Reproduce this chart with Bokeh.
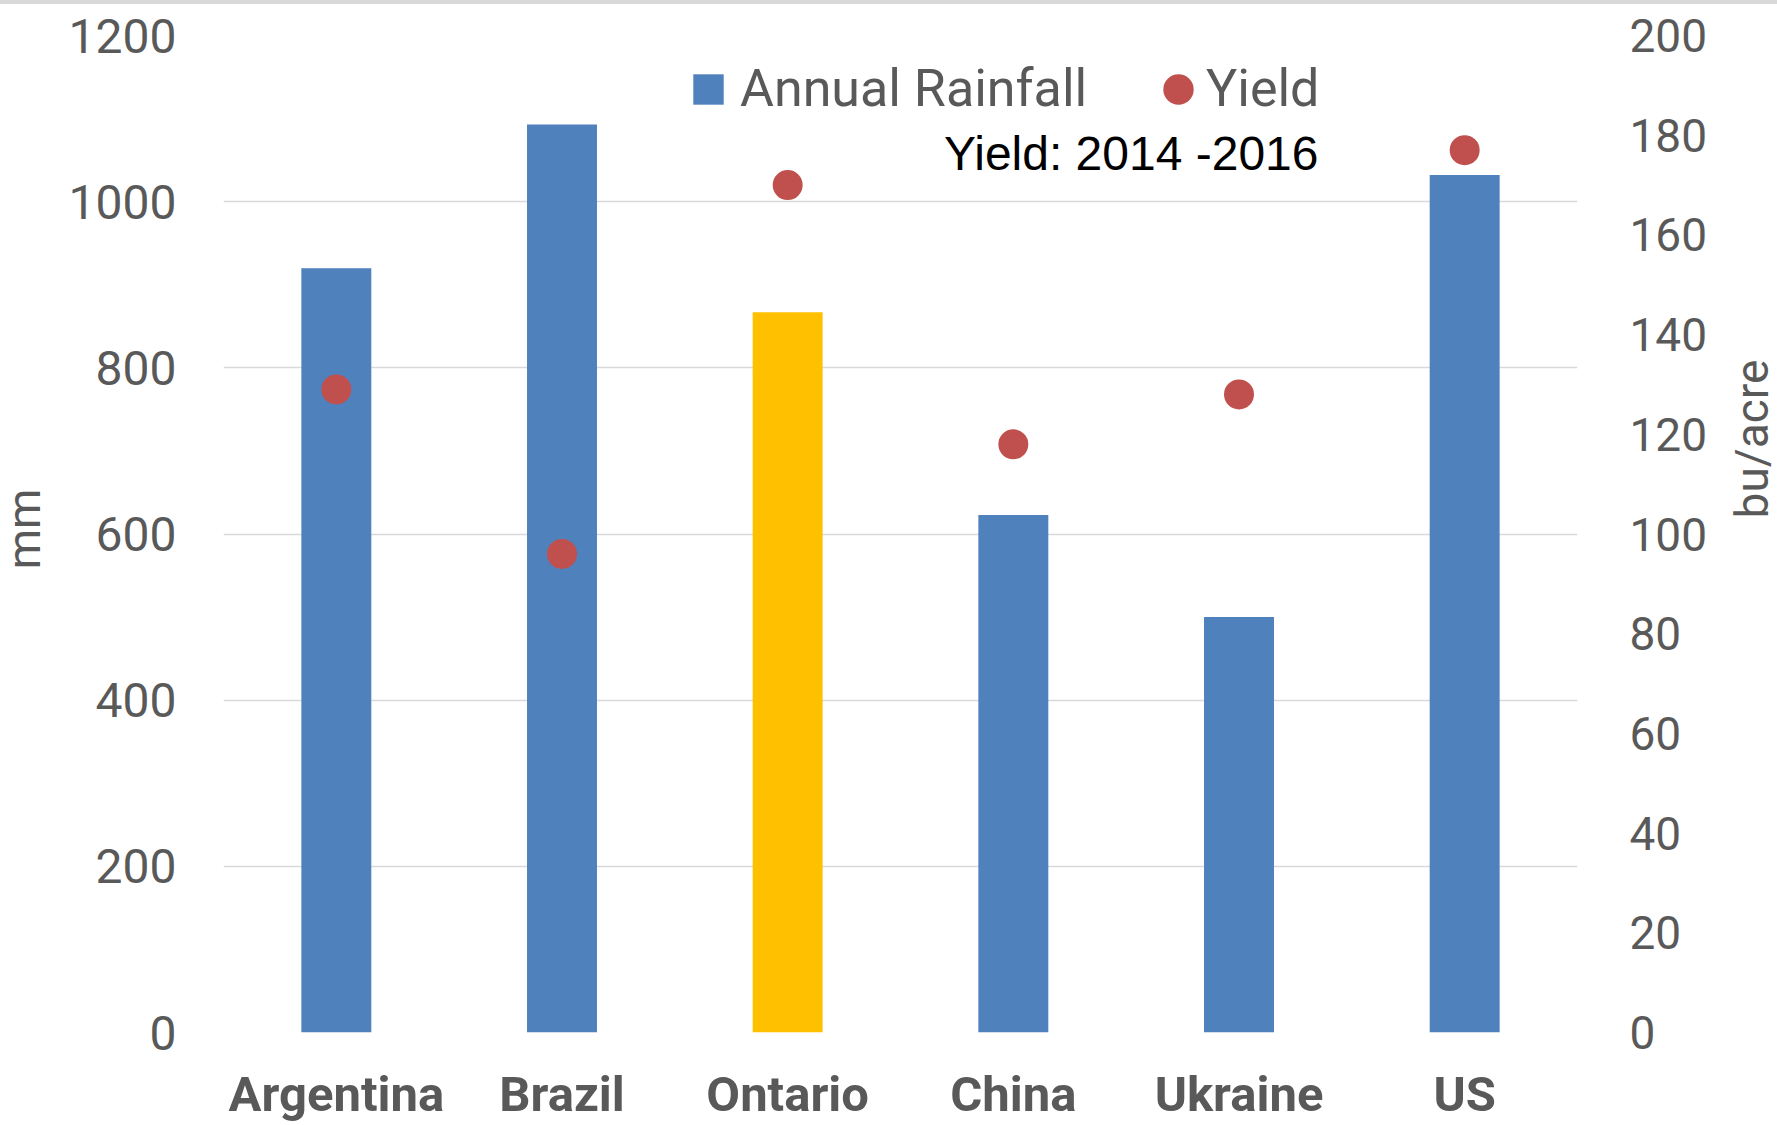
from bokeh.plotting import figure
from bokeh.layouts import column, row
from bokeh.models import (ColumnDataSource, Range1d, FactorRange, LinearAxis, FixedTicker,
                          Legend, LegendItem, Label, Spacer, Div)
from bokeh.embed import file_html
from bokeh.resources import INLINE

# ---- data ----
categories = ["Argentina", "Brazil", "Ontario", "China", "Ukraine", "US"]
rainfall_mm = [920, 1093, 867, 623, 500, 1032]
yield_bu_acre = [129, 96, 170, 118, 128, 177]
highlight = "Ontario"
left_ticks = [0, 200, 400, 600, 800, 1000, 1200]
right_ticks = [0, 20, 40, 60, 80, 100, 120, 140, 160, 180, 200]

BLUE = "#4F81BD"
GOLD = "#FFC000"
RED = "#C0504D"
GREY_TXT = "#595959"
GRID = "#D9D9D9"
FONT = "Roboto"

colors = [GOLD if c == highlight else BLUE for c in categories]
src = ColumnDataSource(dict(cat=categories, rain=rainfall_mm, yld=yield_bu_acre, color=colors))

W, H_TOP, H = 1777, 4, 1121
SIDE_L, SIDE_R = 40, 40
PW = W - SIDE_L - SIDE_R
FRAME_L, FRAME_W = 223, 1354
p = figure(width=PW, height=H, output_backend="svg", toolbar_location=None,
           x_range=FactorRange(*categories, range_padding=0), y_range=Range1d(0, 1200),
           min_border_left=FRAME_L - SIDE_L, min_border_right=PW - (FRAME_L - SIDE_L) - FRAME_W,
           min_border_top=31, min_border_bottom=92, margin=0)
p.outline_line_color = None
p.background_fill_color = "white"
p.border_fill_color = "white"
p.x_range.factor_padding = 0

p.extra_y_ranges = {"yield": Range1d(0, 200)}

bars = p.vbar(x="cat", top="rain", width=0.31, bottom=0, color="color", line_color=None, source=src)
dots = p.scatter(x="cat", y="yld", size=30, marker="circle", fill_color=RED, line_color=None,
                 source=src, y_range_name="yield")

# left axis
la = p.yaxis[0]
la.ticker = FixedTicker(ticks=left_ticks)
la.axis_line_color = None
la.major_tick_line_color = None
la.minor_tick_line_color = None
la.major_label_text_font = FONT
la.major_label_text_font_size = "48px"
la.major_label_text_color = GREY_TXT
la.major_label_standoff = 41

# right axis
rax = LinearAxis(y_range_name="yield", ticker=FixedTicker(ticks=right_ticks))
rax.axis_line_color = None
rax.major_tick_line_color = None
rax.minor_tick_line_color = None
rax.major_label_text_font = FONT
rax.major_label_text_font_size = "46px"
rax.major_label_text_color = GREY_TXT
rax.major_label_standoff = 46
p.add_layout(rax, "right")

# x axis
xa = p.xaxis[0]
xa.axis_line_color = None
xa.major_tick_line_color = None
xa.minor_tick_line_color = None
xa.major_label_text_font = FONT
xa.major_label_text_font_style = "bold"
xa.major_label_text_font_size = "49px"
xa.major_label_text_color = GREY_TXT
xa.major_label_standoff = 27

p.xgrid.grid_line_color = None
p.ygrid.grid_line_color = GRID
p.ygrid.grid_line_width = 1.5
p.ygrid.ticker = FixedTicker(ticks=left_ticks)

# note
p.add_layout(Label(x=1095, y=879, x_units="screen", y_units="screen", text="Yield: 2014 -2016",
                   text_align="right", text_baseline="alphabetic", text_font="Liberation Sans",
                   text_font_size="48px", text_color="black"))

# legends: area-style glyphs are inset 10% of the 38px glyph box -> 30px markers
oval = p.ellipse(x=[categories[0]], y=[-1000], width=30, height=30, width_units="screen",
                 height_units="screen", fill_color=RED, line_color=None)
common = dict(orientation="horizontal", glyph_width=38, glyph_height=38, padding=0, margin=0,
              border_line_color=None, background_fill_alpha=0, label_text_font=FONT,
              label_text_font_size="52px", label_text_color=GREY_TXT)
leg_a = Legend(items=[LegendItem(label="Annual Rainfall", renderers=[bars])],
               location=(466, 913), label_standoff=13, **common)
leg_b = Legend(items=[LegendItem(label="Yield", renderers=[oval])],
               location=(936, 913), label_standoff=9, **common)
p.add_layout(leg_a, "center")
p.add_layout(leg_b, "center")


def side_title(text, width, cx, cy):
    return Div(
        text=('<div style="position:absolute; left:0; top:0; width:%dpx; height:%dpx;">'
              '<span style="position:absolute; left:%dpx; top:%dpx; transform:translate(-50%%,-50%%) rotate(-90deg);'
              ' white-space:nowrap; font-family:Roboto; font-size:46px; color:%s; line-height:1;">%s</span></div>')
             % (width, H, cx, cy, GREY_TXT, text),
        width=width, height=H, margin=0, styles={"position": "relative", "overflow": "visible"})


left_title = side_title("mm", SIDE_L, 24, 525)
right_title = side_title("bu/acre", SIDE_R, 15, 435)

band = Spacer(width=W, height=H_TOP, margin=0, styles={"background-color": "#D9D9D9"})
layout = column(band, row(left_title, p, right_title, spacing=0, margin=0), spacing=0, margin=0)

open("out.html", "w").write(file_html(layout, INLINE))
